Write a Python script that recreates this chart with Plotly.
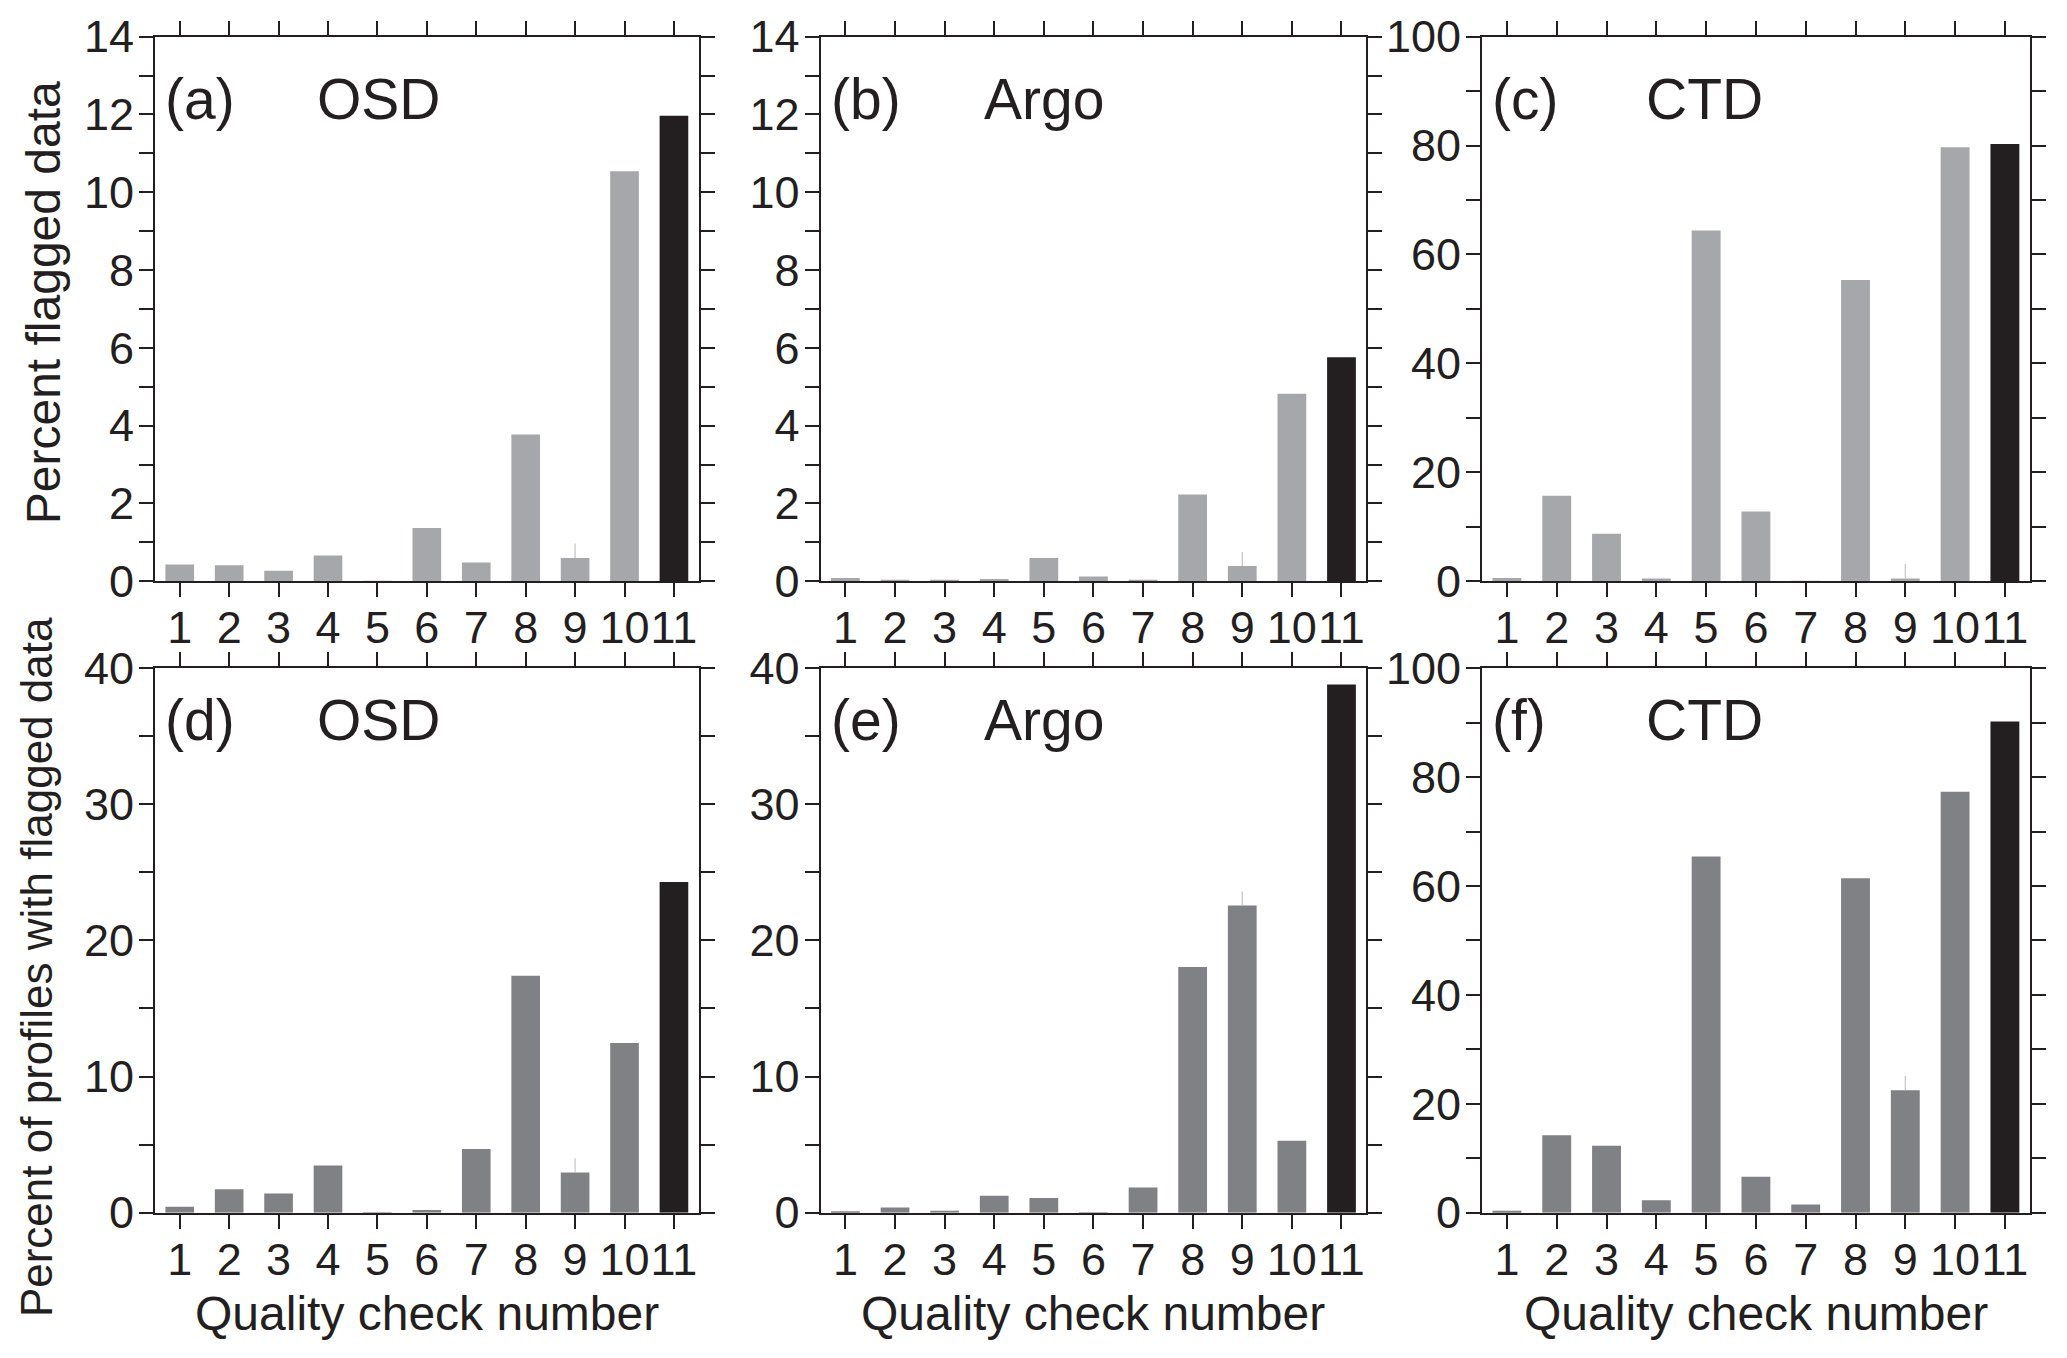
import plotly.graph_objects as go
from plotly.subplots import make_subplots

checks = list(range(1, 12))

# percent flagged data (top row)
osd_flag = [0.43, 0.41, 0.27, 0.66, 0.01, 1.37, 0.48, 3.77, 0.60, 10.54, 11.97]
argo_flag = [0.08, 0.03, 0.02, 0.06, 0.60, 0.12, 0.03, 2.23, 0.39, 4.82, 5.76]
ctd_flag = [0.6, 15.7, 8.7, 0.5, 64.4, 12.8, 0.1, 55.3, 0.5, 79.7, 80.3]

# percent of profiles with flagged data (bottom row)
osd_prof = [0.44, 1.72, 1.41, 3.47, 0.02, 0.20, 4.68, 17.4, 2.96, 12.46, 24.3]
argo_prof = [0.05, 0.38, 0.15, 1.25, 1.08, 0.03, 1.86, 18.05, 22.56, 5.29, 38.8]
ctd_prof = [0.36, 14.2, 12.3, 2.3, 65.4, 6.6, 1.5, 61.4, 22.5, 77.3, 90.2]

# top of the thin error line drawn over check 9
err_top = {"a": 0.97, "b": 0.75, "c": 3.2, "d": 4.0, "e": 23.6, "f": 25.1}

panels = [
    ("a", "OSD", osd_flag, 1, 1, 14, 2, 1),
    ("b", "Argo", argo_flag, 1, 2, 14, 2, 1),
    ("c", "CTD", ctd_flag, 1, 3, 100, 20, 10),
    ("d", "OSD", osd_prof, 2, 1, 40, 10, 5),
    ("e", "Argo", argo_prof, 2, 2, 40, 10, 5),
    ("f", "CTD", ctd_prof, 2, 3, 100, 20, 10),
]

light = "#a6a7aa"
mid = "#808184"
dark = "#231f20"
ink = "#231f20"
font = "Liberation Sans, Arial, Helvetica, sans-serif"

xdom = [[0.075, 0.338], [0.397, 0.661], [0.717, 0.982]]
ydom = [[0.572, 0.973], [0.107, 0.508]]

fig = make_subplots(rows=2, cols=3)

for tag, name, vals, r, c, ymax, dt, mdt in panels:
    base = light if r == 1 else mid
    colors = [base] * 10 + [dark]
    plus = [0] * 11
    plus[8] = err_top[tag] - vals[8]
    fig.add_trace(go.Bar(
        x=checks, y=vals, width=0.58,
        marker=dict(color=colors, line=dict(width=0)),
        error_y=dict(type="data", symmetric=False, array=plus,
                     arrayminus=[0] * 11, width=0, thickness=1.2,
                     color="#c4c4c6"),
        showlegend=False,
    ), row=r, col=c)
    fig.update_xaxes(
        domain=xdom[c - 1], range=[0.5, 11.5], tickmode="array",
        tickvals=checks, ticktext=[str(k) for k in checks], tickangle=0,
        ticks="outside", ticklen=14, tickwidth=2, tickcolor=ink,
        showline=True, linewidth=2, linecolor=ink, mirror="ticks",
        showgrid=False, zeroline=False, automargin=False,
        ticklabelstandoff=-8,
        tickfont=dict(size=45, color=ink, family=font),
        row=r, col=c)
    fig.update_yaxes(
        domain=ydom[r - 1], range=[0, ymax], dtick=dt, tick0=0,
        ticks="outside", ticklen=14, tickwidth=2, tickcolor=ink,
        minor=dict(dtick=mdt, ticks="outside", ticklen=14,
                   tickwidth=2, tickcolor=ink, showgrid=False),
        showline=True, linewidth=2, linecolor=ink, mirror="ticks",
        showgrid=False, zeroline=False, automargin=False,
        ticklabelstandoff=-4,
        tickfont=dict(size=45, color=ink, family=font),
        row=r, col=c)

    idx = (r - 1) * 3 + c
    xr = "x domain" if idx == 1 else f"x{idx} domain"
    yr = "y domain" if idx == 1 else f"y{idx} domain"
    ly = 0.886 if r == 1 else 0.904
    fig.add_annotation(text=f"({tag})", xref=xr, yref=yr, x=0.015, y=ly,
                       xanchor="left", yanchor="middle", showarrow=False,
                       font=dict(size=57, color=ink, family=font))
    fig.add_annotation(text=name, xref=xr, yref=yr, x=0.295, y=ly,
                       xanchor="left", yanchor="middle", showarrow=False,
                       font=dict(size=57, color=ink, family=font))
    if r == 2:
        fig.add_annotation(text="Quality check number", xref="paper",
                           yref="paper", x=sum(xdom[c - 1]) / 2, y=0.033,
                           xanchor="center", yanchor="middle",
                           showarrow=False,
                           font=dict(size=48, color=ink, family=font))

fig.add_annotation(text="Percent flagged data", xref="paper", yref="paper",
                   x=0.021, y=0.777, textangle=-90, xanchor="center",
                   yanchor="middle", showarrow=False,
                   font=dict(size=48, color=ink, family=font))
fig.add_annotation(text="Percent of profiles with flagged data", xref="paper",
                   yref="paper", x=0.018, y=0.288, textangle=-90,
                   xanchor="center", yanchor="middle", showarrow=False,
                   font=dict(size=44, color=ink, family=font))

fig.update_layout(
    width=2067, height=1358,
    margin=dict(l=0, r=0, t=0, b=0),
    paper_bgcolor="white", plot_bgcolor="white",
    bargap=0.42,
    font=dict(family=font, color=ink),
)

fig.write_html("out.html", config={"displayModeBar": False},
               post_script="document.body.style.margin='0px';")
